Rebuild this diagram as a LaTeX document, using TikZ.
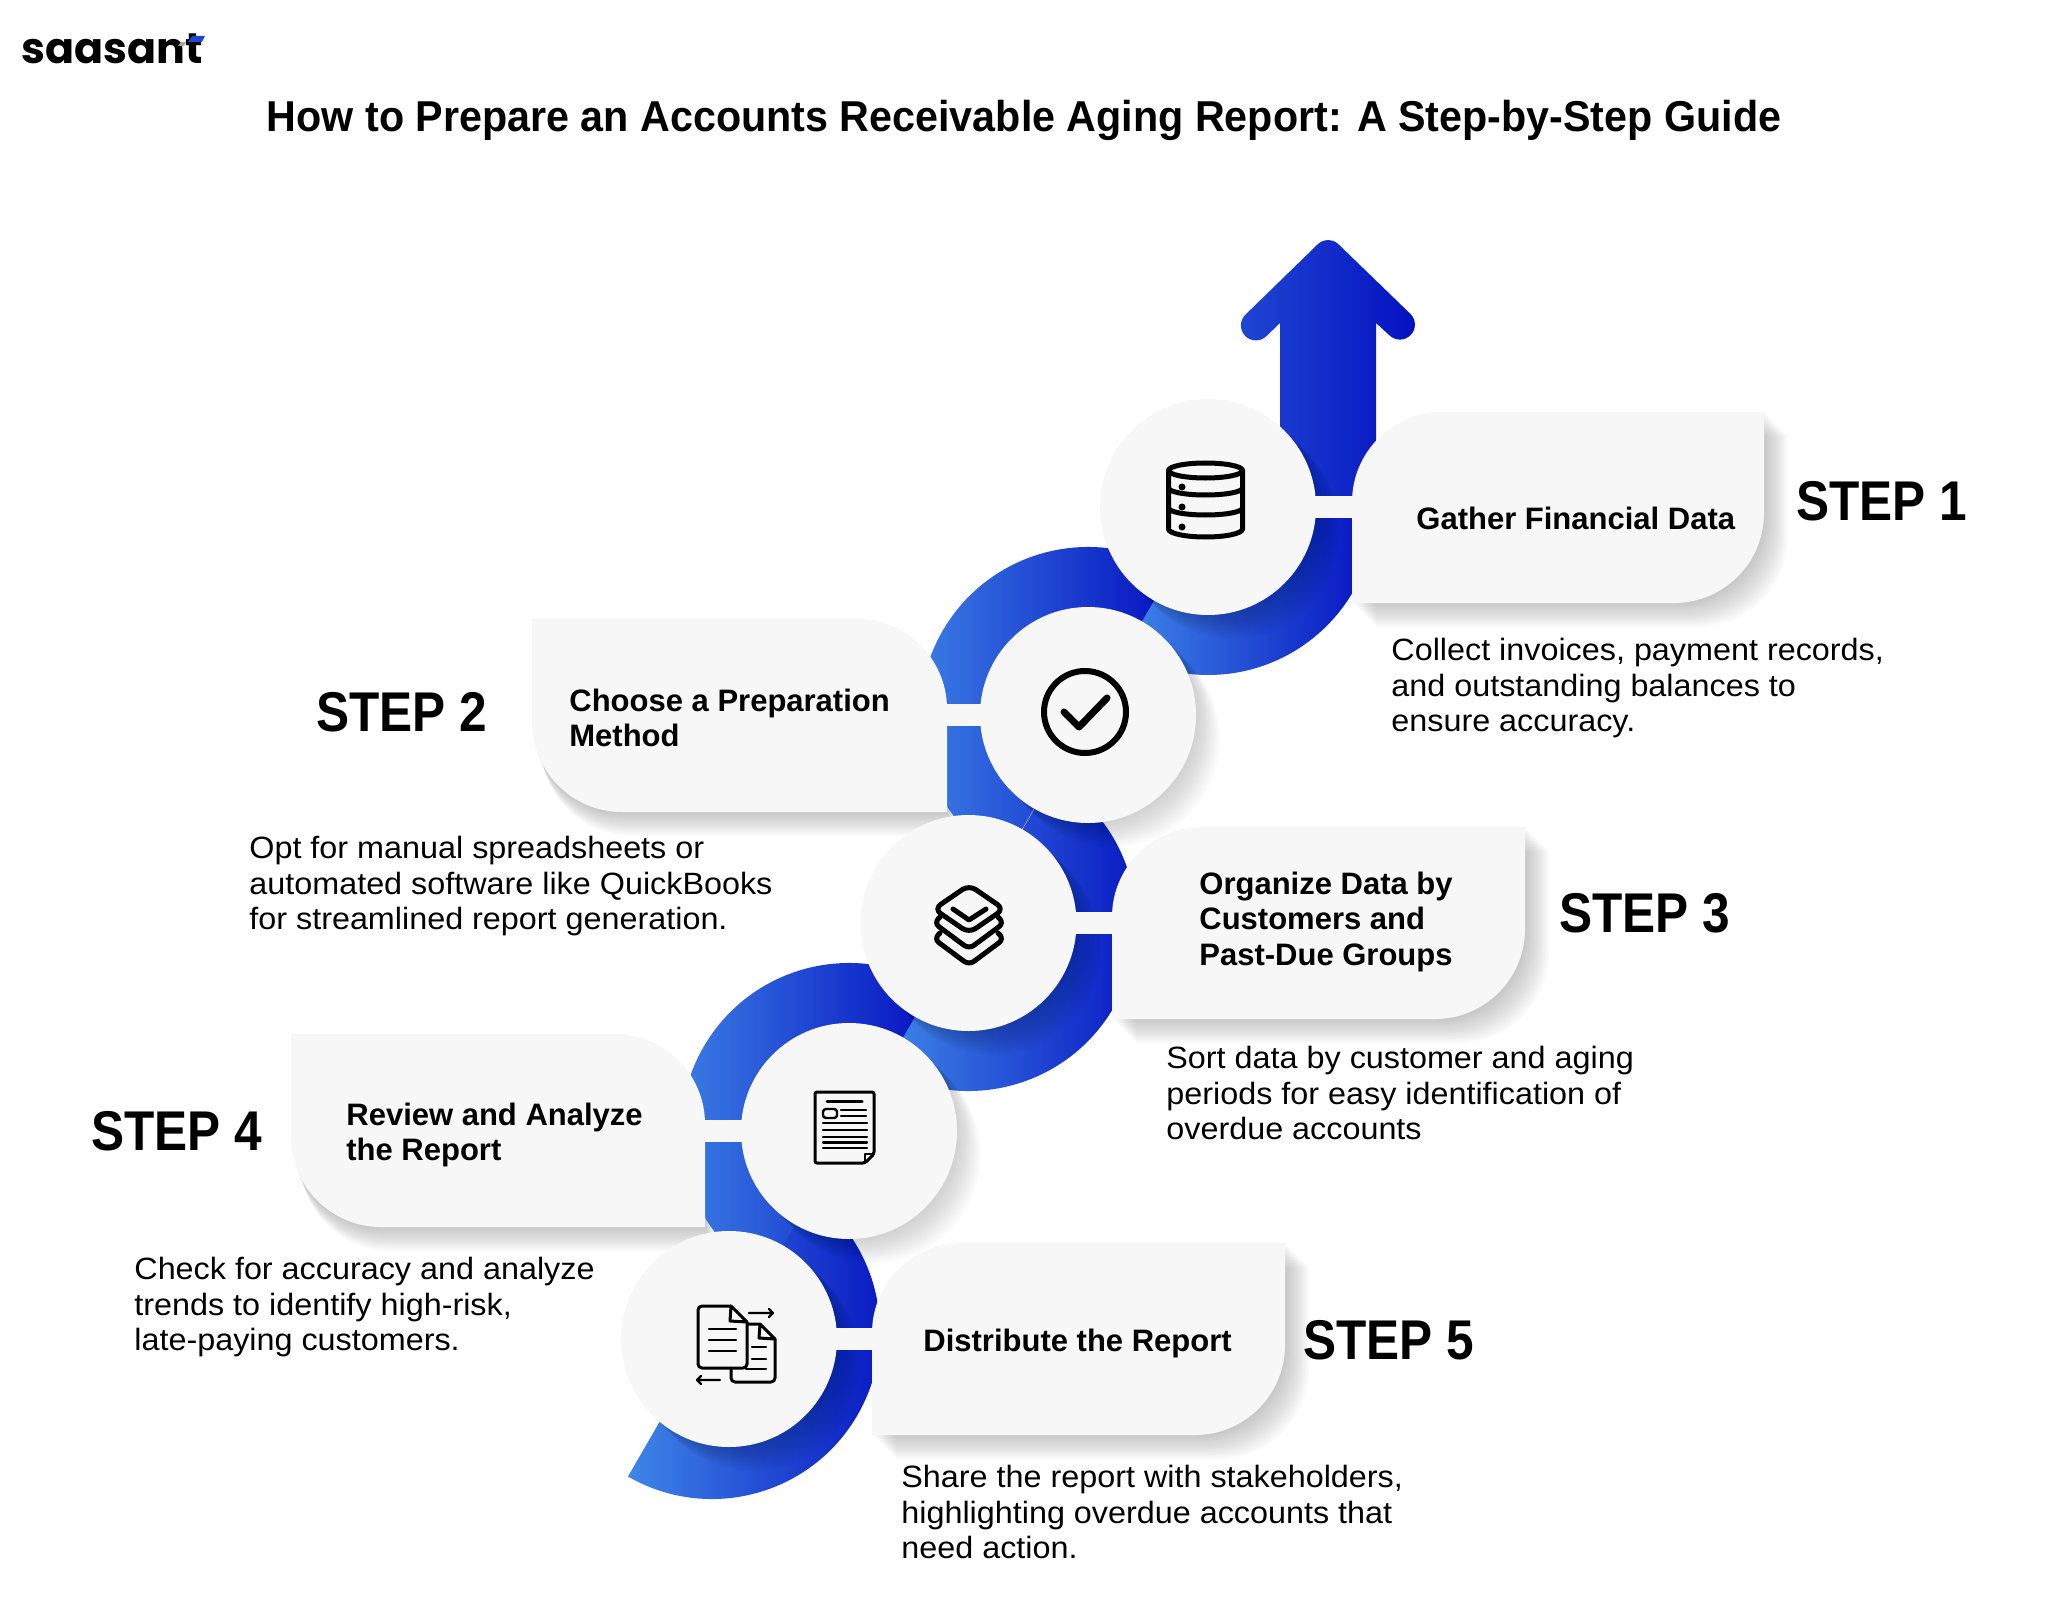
\documentclass[tikz,border=0pt]{standalone}
\usepackage{fontspec}
\setmainfont[FakeStretch=1.05]{Liberation Sans}
\newfontfamily\logofont{Poppins}
\newfontfamily\headfont[FakeStretch=.955]{Liberation Sans}
\newfontfamily\stepfont[FakeStretch=.885]{Liberation Sans}
\newfontfamily\boxfont{Liberation Sans}
\usetikzlibrary{calc}
\definecolor{ringlo}{HTML}{3F86E8}
\definecolor{ringhi}{HTML}{0511C0}
\definecolor{pale}{HTML}{F7F7F7}
\definecolor{logoblue}{HTML}{1F45D8}
\tikzset{ring/.style={left color=ringlo,right color=ringhi,draw=none},
 shad/.style={fill=black,fill opacity=.02,draw=none},
 cir/.style={circle,fill=pale,minimum size=108pt,inner sep=0pt,outer sep=0pt},
 tabbar/.style={draw=pale,line width=11pt},
 ico/.style={draw=black,line width=2.5pt,line join=round,line cap=round,fill=none},
 ttl/.style={anchor=base,inner sep=0pt,font=\fontsize{21.6pt}{26pt}\selectfont\headfont\bfseries},
 stp/.style={anchor=base west,inner sep=0pt,font=\fontsize{28pt}{32pt}\selectfont\stepfont\bfseries},
 lbl/.style={anchor=north west,align=left,inner sep=0pt,font=\fontsize{15.5pt}{17.7pt}\selectfont\boxfont\bfseries},
 txt/.style={anchor=north west,align=left,inner sep=0pt,font=\fontsize{15.4pt}{17.7pt}\selectfont}}
\newcommand{\halfring}[3]{\shade[ring] ($(#1)+(#2:168)$) arc[start angle=#2,end angle=#3,radius=168] -- ($(#1)+(#3:72)$) arc[start angle=#3,end angle=#2,radius=72] -- cycle;}
% cards: left, right, top, bottom (y already negative)
\newcommand{\cardr}[4]{(#1,#4) -- (#1,#3-90) arc[start angle=180,end angle=90,radius=90] -- (#2,#3) -- (#2,#4+90) arc[start angle=0,end angle=-90,radius=90] -- cycle}
\newcommand{\cardl}[4]{(#1,#3) -- (#2-90,#3) arc[start angle=90,end angle=0,radius=90] -- (#2,#4) -- (#1+90,#4) arc[start angle=270,end angle=180,radius=90] -- cycle}
\begin{document}
\begin{tikzpicture}[x=.5pt,y=.5pt]
\useasboundingbox (0,0) rectangle (2048,-1604);
\coordinate (p1) at (1208,-507);\coordinate (p2) at (1088,-715);\coordinate (p3) at (968.5,-923);
\coordinate (p4) at (849,-1131);\coordinate (p5) at (729,-1339);\coordinate (q5) at (712,-1331);
\coordinate (w1) at (1352,-507);\coordinate (w2) at (947,-715);\coordinate (w3) at (1112,-923);
\coordinate (w4) at (705,-1131);\coordinate (w5) at (872,-1339);
% shadows of the cards
\foreach \s in {2,4,...,24}{
 \fill[shad,shift={(\s,-\s)}] \cardr{1352}{1764}{-412}{-603};
 \fill[shad,shift={(\s*.4,-\s)}] \cardl{532}{947}{-619}{-812};
 \fill[shad,shift={(\s,-\s)}] \cardr{1112}{1525}{-827}{-1019};
 \fill[shad,shift={(\s*.4,-\s)}] \cardl{291}{705}{-1034}{-1227};
 \fill[shad,shift={(\s,-\s)}] \cardr{872}{1285}{-1243}{-1435};}
% ribbon
\halfring{p1}{0}{-120}\halfring{p3}{60}{-120}\halfring{q5}{60}{-120}
\halfring{p2}{60}{240}\halfring{p4}{60}{240}
\shade[left color=ringlo!45!ringhi,right color=ringhi] (1280,-507) -- (1280,-323) -- (1266.5,-336) arc[start angle=-45,end angle=-225,radius=15] -- (1317.5,-244.5) arc[start angle=135,end angle=45,radius=15] -- (1410.5,-314) arc[start angle=45,end angle=-135,radius=15] -- (1376,-323) -- (1376,-507) -- cycle;
\foreach \n in {p1,p2,p3,p4,p5}{\foreach \s in {2,4,...,24}{\fill[shad,fill opacity=.016] ([shift={(\s,-\s)}]\n) circle[radius=108];}}
\draw[tabbar] (p1) -- (w1);\draw[tabbar] (p2) -- (w2);\draw[tabbar] (p3) -- (w3);\draw[tabbar] (p4) -- (w4);\draw[tabbar] (p5) -- (w5);
% cards and circles
\fill[pale] \cardr{1352}{1764}{-412}{-603};\fill[pale] \cardl{532}{947}{-619}{-812};\fill[pale] \cardr{1112}{1525}{-827}{-1019};
\fill[pale] \cardl{291}{705}{-1034}{-1227};\fill[pale] \cardr{872}{1285}{-1243}{-1435};
\node[cir] (cir1) at (p1) {};\node[cir] (cir2) at (p2) {};\node[cir] (cir3) at (p3) {};\node[cir] (cir4) at (p4) {};\node[cir] (cir5) at (p5) {};
% database
\draw[ico] (1205.5,-470.5) circle[x radius=37,y radius=7.5];
\draw[ico] (1168.5,-470.5) -- (1168.5,-529) arc[start angle=180,end angle=360,x radius=37,y radius=8] -- (1242.5,-470.5);
\draw[ico] (1168.5,-488) arc[start angle=180,end angle=360,x radius=37,y radius=7];
\draw[ico] (1168.5,-508) arc[start angle=180,end angle=360,x radius=37,y radius=7];
\foreach \y in {487,507,527}{\fill (1182,-\y) circle[radius=3.5];}
% check
\draw[ico,line width=3pt] (1085,-712) circle[radius=41];
\draw[ico,line width=3.5pt] (1064,-712) -- (1079,-727) -- (1107,-698);
% stack
\draw[ico,rounded corners=4pt] (969,-885) -- (1004,-909) -- (969,-933) -- (934,-909) -- cycle;
\draw[ico] (953,-909) -- (969,-920) -- (986,-909);
\foreach \y in {0,16}{\draw[ico,rounded corners=3pt] (940,-917-\y) -- (934,-923-\y) -- (969,-949-\y) -- (1004,-923-\y) -- (998,-917-\y);}
% document
\draw[ico,line width=1.5pt,rounded corners=1pt] (815,-1092) -- (874,-1092) -- (874,-1154) -- (865,-1163) -- (815,-1163) -- cycle;
\draw[ico,line width=1pt] (874,-1154) -- (865,-1154) -- (865,-1163);
\draw[ico,line width=1.5pt] (827,-1101) -- (862,-1101);
\draw[ico,line width=1.2pt,rounded corners=1.5pt] (823,-1109) rectangle (837,-1118);
\foreach \a in {1110,1116}{\draw[ico,line width=1.2pt] (841,-\a) -- (866,-\a);}
\foreach \a in {1123,1130,1137,1142.5,1148}{\draw[ico,line width=1.2pt] (823,-\a) -- (867,-\a);}
% documents with arrows
\draw[ico,line width=1.5pt,rounded corners=2pt] (731,-1368) -- (731,-1382) -- (775,-1382) -- (775,-1339);
\draw[ico,line width=1.5pt] (747,-1324) -- (760,-1324) -- (775,-1339) -- (759,-1338) -- (760,-1324);
\draw[ico,line width=1.5pt,rounded corners=2pt] (731,-1306) -- (698,-1306) -- (698,-1368) -- (747,-1368) -- (747,-1322);
\draw[ico,line width=1.5pt] (731,-1306) -- (747,-1322) -- (730,-1321) -- cycle;
\foreach \a in {1329,1340,1351}{\draw[ico,line width=1.2pt] (709,-\a) -- (736,-\a);}
\foreach \a in {1347,1359}{\draw[ico,line width=1.2pt] (752,-\a) -- (766,-\a);}
\draw[ico,line width=1.2pt] (746,-1369) -- (766,-1369);
\draw[ico,line width=1.2pt] (749,-1313) -- (773,-1313) (769,-1309) -- (773,-1313) -- (769,-1317);
\draw[ico,line width=1.2pt] (720,-1380) -- (697,-1380) (701,-1376) -- (697,-1380) -- (701,-1384);
% logo
\node[anchor=base west,inner sep=0pt,font=\fontsize{21.4pt}{24pt}\selectfont\logofont\bfseries] (logo) at (21,-64) {saasant};
\fill[logoblue] (188,-42) -- (192,-36) -- (205,-36) -- (202,-42) -- cycle;
\fill[black!35] (178,-46) -- (181,-42) -- (186,-42) -- (184,-46) -- cycle;
% texts
\node[ttl] (title) at (1024,-132) {How to Prepare an Accounts Receivable Aging Report: A Step-by-Step Guide};
\node[stp] (st1) at (1796,-520) {STEP 1};\node[stp] (st2) at (316,-731) {STEP 2};\node[stp] (st3) at (1559,-932) {STEP 3};
\node[stp] (st4) at (91,-1150) {STEP 4};\node[stp] (st5) at (1303,-1359) {STEP 5};
\node[lbl] (lb1) at (1416,-506.5) {Gather Financial Data};
\node[lbl] (lb2) at (569,-688.5) {Choose a Preparation\\Method};
\node[lbl] (lb3) at (1199,-871.5) {Organize Data by\\Customers and\\Past-Due Groups};
\node[lbl] (lb4) at (346,-1102.5) {Review and Analyze\\the Report};
\node[lbl] (lb5) at (923,-1328.5) {Distribute the Report};
\node[txt] (tx1) at (1391,-638) {Collect invoices, payment records,\\and outstanding balances to\\ensure accuracy.};
\node[txt] (tx2) at (249,-836) {Opt for manual spreadsheets or\\automated software like QuickBooks\\for streamlined report generation.};
\node[txt] (tx3) at (1166,-1046) {Sort data by customer and aging\\periods for easy identification of\\overdue accounts};
\node[txt] (tx4) at (134,-1257) {Check for accuracy and analyze\\trends to identify high-risk,\\late-paying customers.};
\node[txt] (tx5) at (901,-1465) {Share the report with stakeholders,\\highlighting overdue accounts that\\need action.};
\end{tikzpicture}
\end{document}
